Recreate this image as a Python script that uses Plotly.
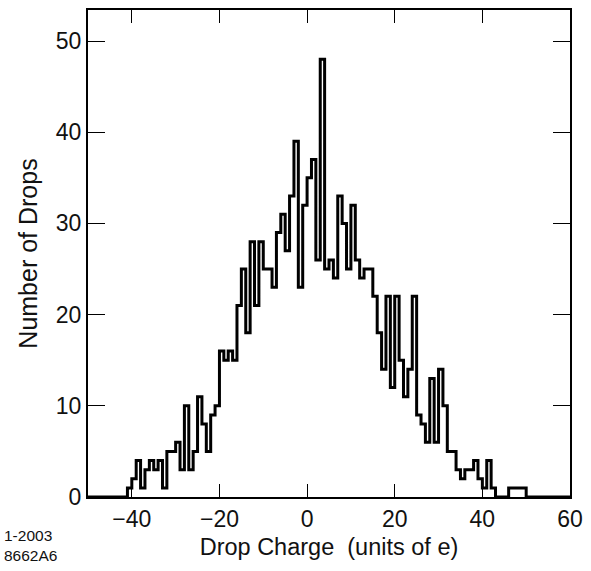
import plotly.graph_objects as go

# Histogram of drop charges: 1-unit bins, left edges from -50 to 59
bin_start = -50
bin_end = 60
first_nonzero_bin = -41
counts_from_first = [
    1, 2, 4, 1, 3, 4, 3, 4, 1, 5,        # -41 .. -32
    5, 6, 3, 10, 3, 5, 11, 8, 5, 9,      # -31 .. -22
    10, 16, 15, 16, 15, 21, 25, 18, 28, 21,  # -21 .. -12
    28, 25, 25, 23, 29, 31, 27, 33, 39, 23,  # -11 .. -2
    32, 35, 37, 26, 48, 25, 26, 24, 33, 30,  # -1 .. 8
    25, 32, 26, 24, 25, 25, 22, 18, 14, 22,  # 9 .. 18
    12, 22, 15, 11, 14, 22, 9, 8, 6, 13,     # 19 .. 28
    6, 14, 10, 5, 5, 3, 2, 3, 3, 4,          # 29 .. 38
    2, 1, 4, 1, 0, 0, 0, 1, 1, 1,            # 39 .. 48
    1,                                       # 49
]

x_ticks = [-40, -20, 0, 20, 40, 60]
y_ticks = [0, 10, 20, 30, 40, 50]

edges = list(range(bin_start, bin_end + 1))
counts = []
for e in edges[:-1]:
    i = e - first_nonzero_bin
    counts.append(counts_from_first[i] if 0 <= i < len(counts_from_first) else 0)
y_vals = counts + [0]

FONT = "Liberation Sans, Arial, Helvetica, sans-serif"
TXT = "#111"

fig = go.Figure()
fig.add_trace(go.Scatter(
    x=edges, y=y_vals, mode="lines", line_shape="hv",
    line=dict(color="black", width=3), showlegend=False, hoverinfo="skip",
))

fig.update_layout(
    width=591, height=571,
    margin=dict(l=88, r=19, t=8, b=74),
    plot_bgcolor="white", paper_bgcolor="white",
    font=dict(family=FONT, size=23, color=TXT),
    xaxis=dict(
        range=[-50, 60], tickvals=x_ticks, ticks="inside", ticklen=13, tickwidth=1,
        tickcolor="black", showline=True, linecolor="black", linewidth=2, mirror="ticks",
        showgrid=False, zeroline=False, tickfont=dict(size=23, family=FONT, color=TXT),
        title=dict(text="Drop Charge  (units of e)", font=dict(size=23.5, family=FONT, color=TXT), standoff=8),
    ),
    yaxis=dict(
        range=[0, 53.4], tickvals=y_ticks, ticks="inside", ticklen=17, tickwidth=1,
        tickcolor="black", showline=True, linecolor="black", linewidth=2, mirror="ticks",
        showgrid=False, zeroline=False, tickfont=dict(size=23, family=FONT, color=TXT),
        title=dict(text="Number of Drops", font=dict(size=25, family=FONT, color=TXT), standoff=11),
    ),
    annotations=[dict(
        text="1-2003<br>8662A6", xref="paper", yref="paper", x=-0.178, y=-0.058,
        xanchor="left", yanchor="top", showarrow=False, align="left",
        font=dict(size=15.5, family=FONT, color=TXT),
    )],
)

fig.write_html(
    "out.html",
    config={"displayModeBar": False},
    post_script="document.body.style.margin='0';document.body.style.overflow='hidden';",
)
